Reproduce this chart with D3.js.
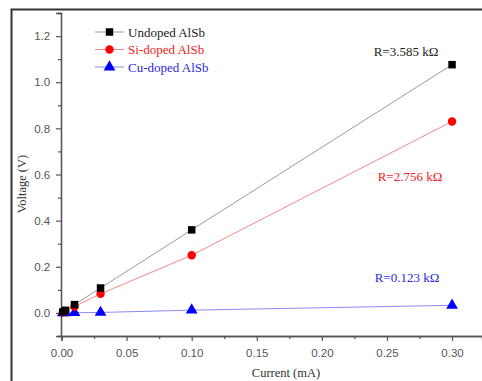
<!DOCTYPE html>
<html>
<head>
<meta charset="utf-8">
<script src="https://cdn.jsdelivr.net/npm/d3@7"></script>
<style>
  html, body { margin: 0; padding: 0; background: #fff; }
  svg { display: block; }
</style>
</head>
<body>
<svg id="chart" width="482" height="381"></svg>
<script>
// Current (mA) at which each voltage was measured
const current = [0.001, 0.003, 0.01, 0.03, 0.1, 0.3];

// Measured voltage (V) for each sample
const undoped = [0.004, 0.011, 0.036, 0.108, 0.36, 1.076];
const siDoped = [0.003, 0.008, 0.028, 0.083, 0.25, 0.83];
const cuDoped = [0.0, 0.0, 0.001, 0.002, 0.012, 0.033];

const seriesNames = ["Undoped AlSb", "Si-doped AlSb", "Cu-doped AlSb"];
const resistanceLabels = ["R=3.585 k\u03A9", "R=2.756 k\u03A9", "R=0.123 k\u03A9"];

const xTicks = [0.00, 0.05, 0.10, 0.15, 0.20, 0.25, 0.30];
const yTicks = [0.0, 0.2, 0.4, 0.6, 0.8, 1.0, 1.2];

const series = [
  { name: seriesNames[0], values: undoped, color: "#000000", text: "#222222", line: "#9a9a9a", shape: d3.symbolSquare, size: 56, label: resistanceLabels[0], lx: 406, ly: 56 },
  { name: seriesNames[1], values: siDoped, color: "#ff0000", text: "#f02020", line: "#f08a8a", shape: d3.symbolCircle, size: 56, label: resistanceLabels[1], lx: 410, ly: 181 },
  { name: seriesNames[2], values: cuDoped, color: "#0000ff", text: "#2a2ae0", line: "#8a8af0", shape: d3.symbolTriangle, size: 60, label: resistanceLabels[2], lx: 407, ly: 282 }
];

const svg = d3.select("#chart");

// outer frame (left and top edges)
svg.append("path")
  .attr("d", "M11.5,381 V9.5 H482")
  .attr("fill", "none").attr("stroke", "#333").attr("stroke-width", 2);

const x = d3.scaleLinear().domain([0, 0.323]).range([61.5, 482]);
const y = d3.scaleLinear().domain([-0.1, 1.3]).range([336, 13]);

const tickFont = "'Liberation Sans', Arial, sans-serif";
const serif = "'Liberation Serif', 'Times New Roman', serif";

// x axis
const gx = svg.append("g").attr("transform", `translate(0,${y(-0.1)})`);
gx.call(d3.axisBottom(x).tickValues(d3.range(0.025, 0.32, 0.05)).tickSize(3).tickFormat(""));
gx.call(g => g.append("g").call(d3.axisBottom(x).tickValues(xTicks).tickSize(5).tickFormat(d3.format(".2f"))));
gx.selectAll(".domain").attr("stroke", "#555").attr("stroke-width", 1.3);
gx.selectAll("line").attr("stroke", "#555").attr("stroke-width", 1.2);
gx.selectAll("text").attr("fill", "#555").style("font-family", tickFont).style("font-size", "11.5px").attr("dy", "1.15em");

// y axis
const gy = svg.append("g").attr("transform", `translate(${x(0) - 0.5},0)`);
gy.call(d3.axisLeft(y).tickValues(d3.range(-0.1, 1.31, 0.2).map(v => +v.toFixed(2))).tickSize(3).tickFormat(""));
gy.call(g => g.append("g").call(d3.axisLeft(y).tickValues(yTicks).tickSize(5).tickFormat(d3.format(".1f"))));
gy.selectAll(".domain").attr("stroke", "#555").attr("stroke-width", 1.3);
gy.selectAll("line").attr("stroke", "#555").attr("stroke-width", 1.2);
gy.selectAll("text").attr("fill", "#555").style("font-family", tickFont).style("font-size", "11.5px").attr("dx", "-0.25em");

// axis titles
svg.append("text")
  .attr("x", 286).attr("y", 377)
  .attr("text-anchor", "middle")
  .style("font-family", serif).style("font-size", "12.5px").attr("fill", "#333")
  .text("Current (mA)");
svg.append("text")
  .attr("transform", "translate(26,184) rotate(-90)")
  .attr("text-anchor", "middle")
  .style("font-family", serif).style("font-size", "12.5px").attr("fill", "#333")
  .text("Voltage (V)");

// connecting lines and markers
const line = d3.line().x((d, i) => x(current[i])).y(d => y(d));
series.forEach(s => {
  svg.append("path")
    .attr("d", line(s.values))
    .attr("fill", "none").attr("stroke", s.line).attr("stroke-width", 1);
});
series.slice().reverse().forEach(s => {
  svg.append("g").selectAll("path")
    .data(s.values)
    .join("path")
    .attr("transform", (d, i) => `translate(${x(current[i])},${y(d)})`)
    .attr("d", d3.symbol().type(s.shape).size(s.size))
    .attr("fill", s.color);
  svg.append("text")
    .attr("x", s.lx).attr("y", s.ly)
    .attr("text-anchor", "middle")
    .style("font-family", serif).style("font-size", "13px")
    .attr("fill", s.text)
    .text(s.label);
});

// legend
const legend = svg.append("g");
series.forEach((s, i) => {
  const ly = 32 + i * 17.5;
  legend.append("line")
    .attr("x1", 95).attr("x2", 124).attr("y1", ly).attr("y2", ly)
    .attr("stroke", s.line).attr("stroke-width", 1);
  legend.append("path")
    .attr("transform", `translate(109.5,${ly})`)
    .attr("d", d3.symbol().type(s.shape).size(s.size))
    .attr("fill", s.color);
  legend.append("text")
    .attr("x", 128).attr("y", ly + 4.5)
    .style("font-family", serif).style("font-size", "13px")
    .attr("fill", s.text)
    .text(s.name);
});
</script>
</body>
</html>
